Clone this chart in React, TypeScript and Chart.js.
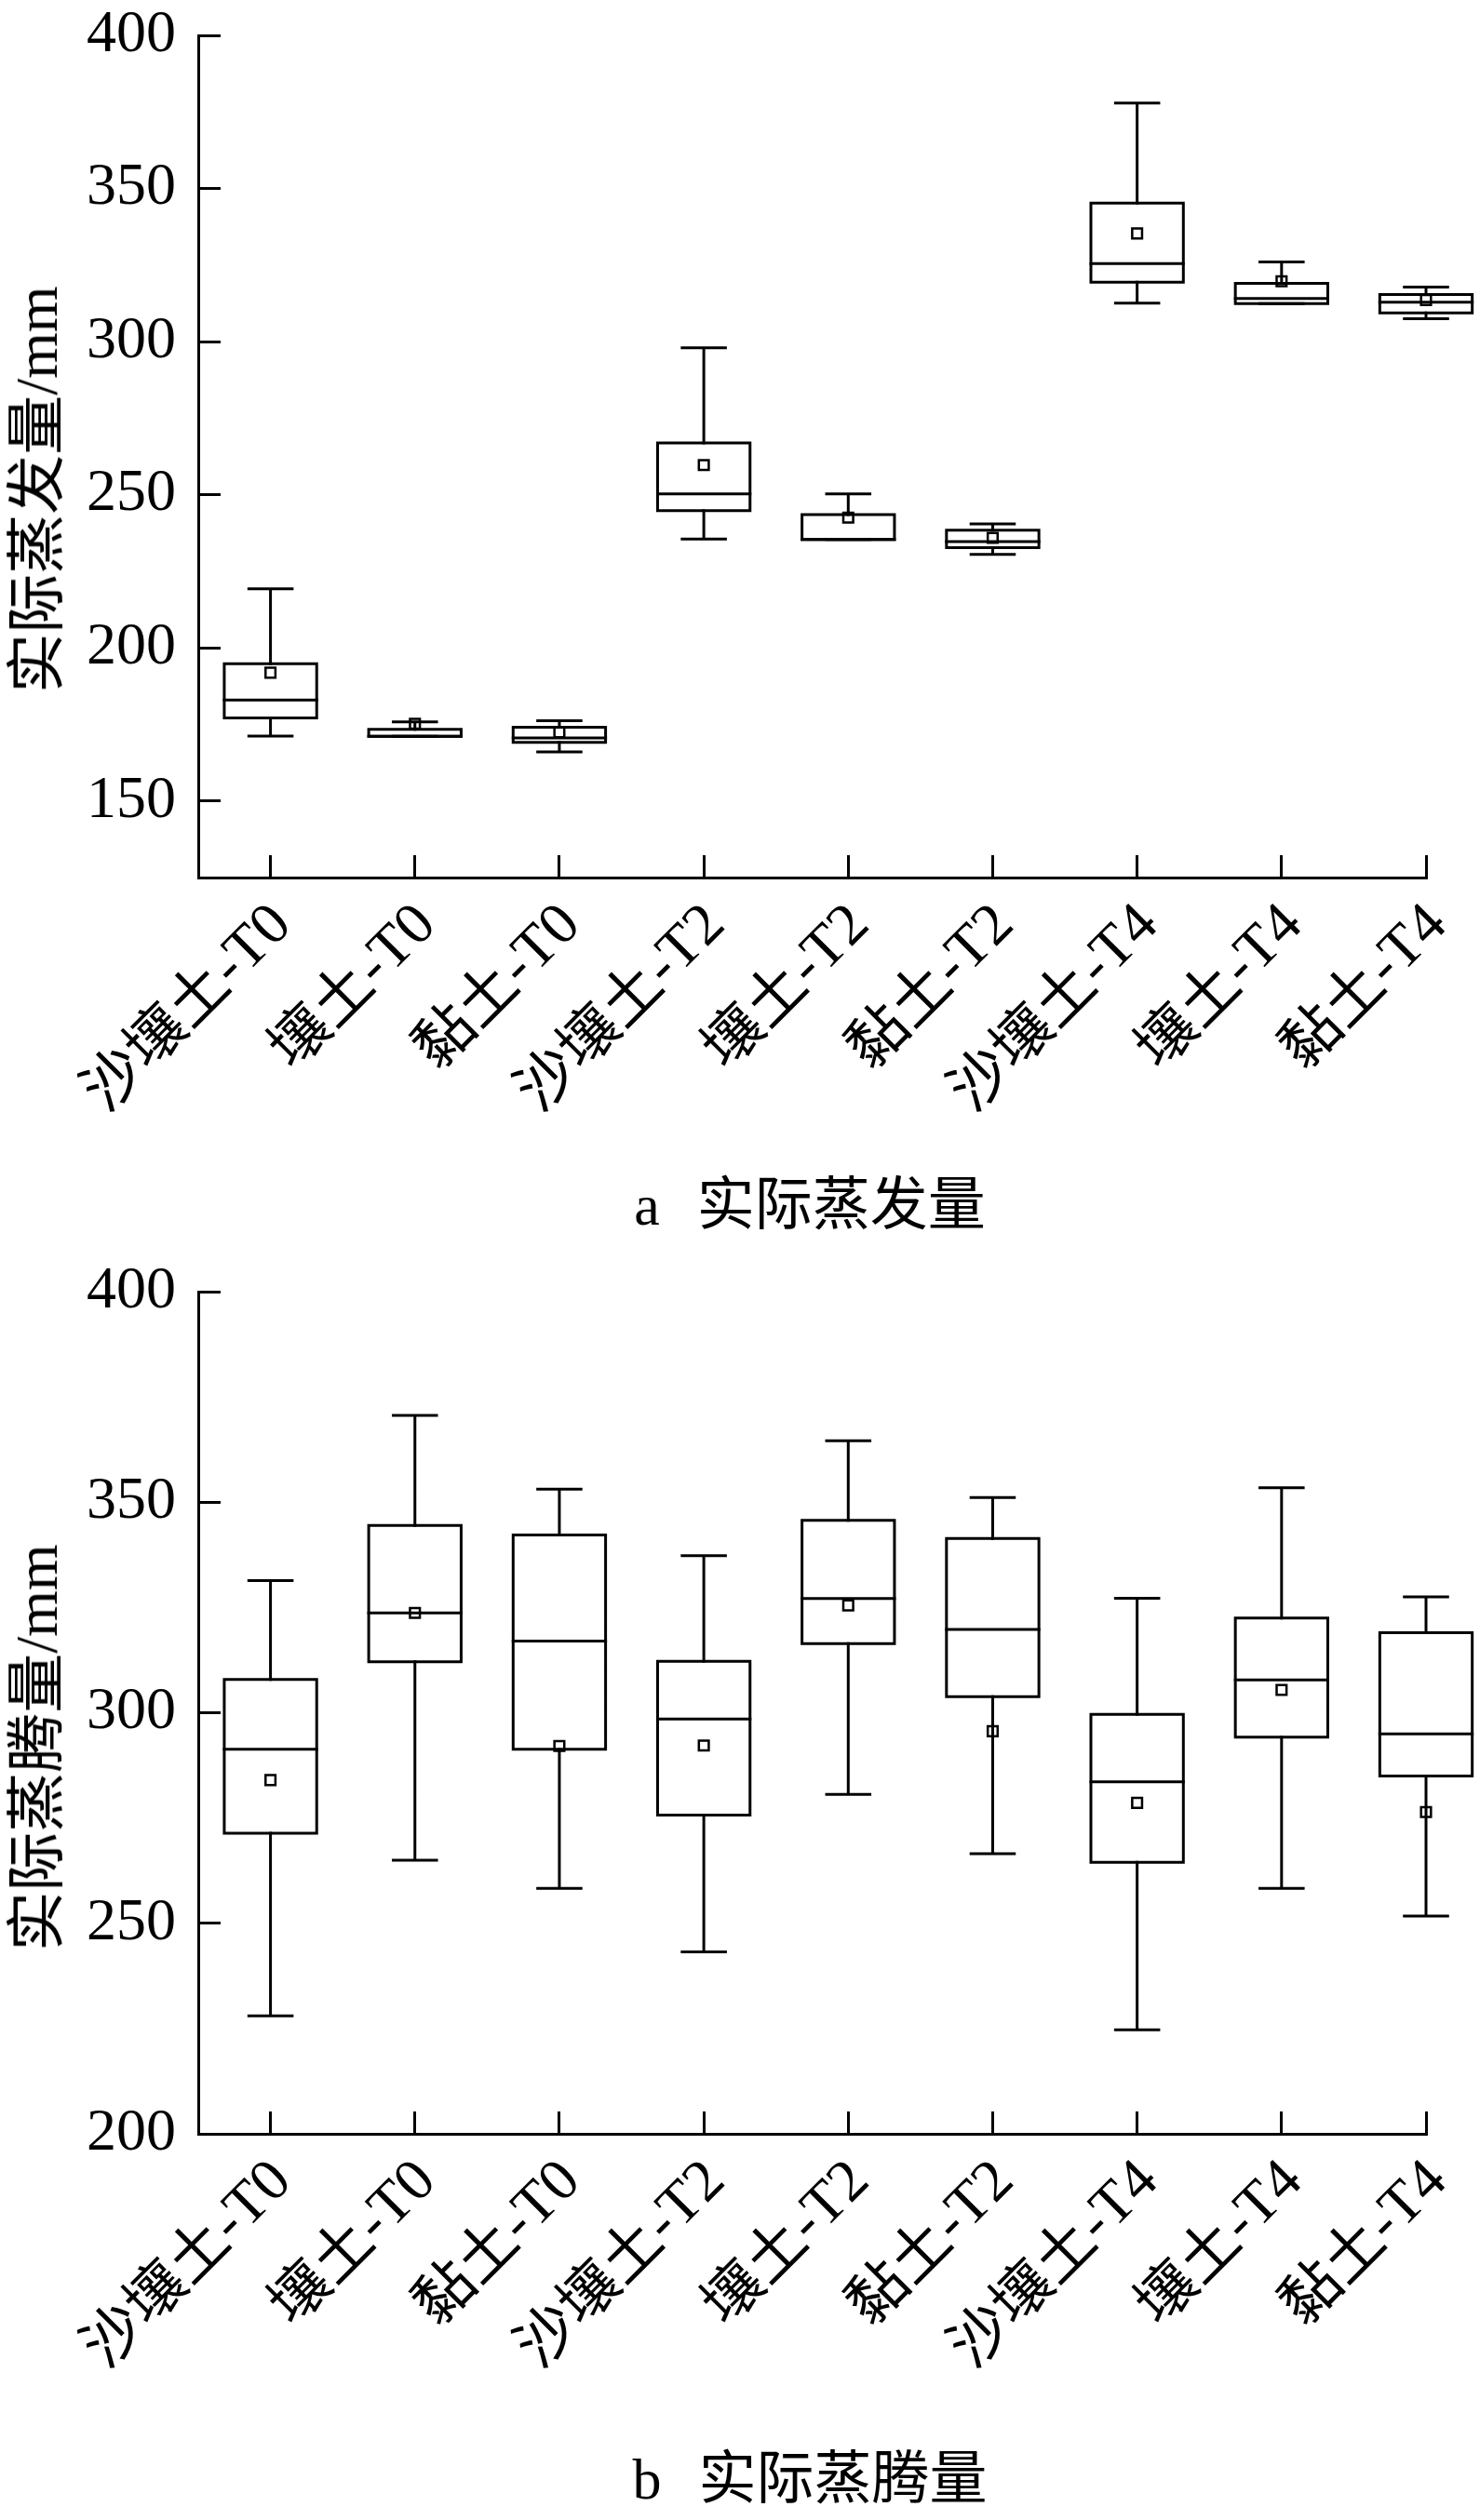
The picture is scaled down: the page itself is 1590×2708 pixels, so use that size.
import React, { useEffect, useRef } from "react";
import { Chart, registerables } from "chart.js";

Chart.register(...registerables);

// ---------- data ----------
const categories = [
  "沙壤土-T0",
  "壤土-T0",
  "黏土-T0",
  "沙壤土-T2",
  "壤土-T2",
  "黏土-T2",
  "沙壤土-T4",
  "壤土-T4",
  "黏土-T4",
];

// (a) 实际蒸发量
const evapMin = [171.2, 171.1, 166.0, 235.5, 235.4, 230.5, 312.6, 312.4, 307.5];
const evapQ1 = [177.1, 171.1, 169.1, 244.8, 235.4, 232.7, 319.4, 312.4, 309.4];
const evapMedian = [183.0, 171.1, 170.6, 250.3, 235.4, 234.7, 325.5, 314.1, 312.9];
const evapQ3 = [194.8, 173.4, 174.1, 266.9, 243.5, 238.4, 345.2, 319.0, 315.4];
const evapMax = [219.3, 175.8, 176.2, 298.0, 250.3, 240.5, 377.9, 326.0, 317.8];
const evapMean = [191.9, 175.2, 172.4, 259.7, 242.5, 235.9, 335.3, 319.7, 313.6];
const evapTicks = [150, 200, 250, 300, 350, 400];

// (b) 实际蒸腾量
const transMin = [228.0, 265.0, 258.3, 243.2, 280.6, 266.5, 224.7, 258.3, 251.7];
const transQ1 = [271.4, 312.1, 291.3, 275.7, 316.4, 303.8, 264.5, 294.2, 285.0];
const transMedian = [291.3, 323.7, 317.0, 298.5, 327.1, 319.8, 283.6, 307.8, 295.0];
const transQ3 = [307.9, 344.5, 342.2, 312.2, 345.7, 341.4, 299.6, 322.5, 319.0];
const transMax = [331.4, 370.6, 353.1, 337.3, 364.6, 351.1, 327.2, 353.4, 327.5];
const transMean = [284.0, 323.7, 292.1, 292.2, 325.5, 295.6, 278.6, 305.4, 276.4];
const transTicks = [200, 250, 300, 350, 400];

// ---------- styling ----------
const FONT_FAMILY = "'Liberation Serif', 'Noto Sans CJK SC', serif";
const BOX_HALF = 0.32;
const CAP_HALF = 0.15;
const LINE_W = 3;

type Pt = { x: number; y: number | null };

function buildDatasets(
  mins: number[],
  q1s: number[],
  meds: number[],
  q3s: number[],
  maxs: number[],
  means: number[]
) {
  const boxes: Pt[] = [];
  const medians: Pt[] = [];
  const whiskers: Pt[] = [];
  const meanPts: Pt[] = [];
  categories.forEach((_, i) => {
    const l = i - BOX_HALF;
    const r = i + BOX_HALF;
    boxes.push(
      { x: l, y: q1s[i] },
      { x: r, y: q1s[i] },
      { x: r, y: q3s[i] },
      { x: l, y: q3s[i] },
      { x: l, y: q1s[i] },
      { x: i, y: null }
    );
    medians.push({ x: l, y: meds[i] }, { x: r, y: meds[i] }, { x: i, y: null });
    whiskers.push(
      { x: i, y: q3s[i] },
      { x: i, y: maxs[i] },
      { x: i, y: null },
      { x: i - CAP_HALF, y: maxs[i] },
      { x: i + CAP_HALF, y: maxs[i] },
      { x: i, y: null },
      { x: i, y: q1s[i] },
      { x: i, y: mins[i] },
      { x: i, y: null },
      { x: i - CAP_HALF, y: mins[i] },
      { x: i + CAP_HALF, y: mins[i] },
      { x: i, y: null }
    );
    meanPts.push({ x: i, y: means[i] });
  });
  const lineCommon = {
    type: "line" as const,
    borderColor: "#000",
    borderWidth: LINE_W,
    pointRadius: 0,
    fill: false,
    tension: 0,
    spanGaps: false,
    clip: false as const,
    borderCapStyle: "square" as const,
    borderJoinStyle: "miter" as const,
  };
  return [
    { ...lineCommon, label: "box", data: boxes },
    { ...lineCommon, label: "median", data: medians },
    { ...lineCommon, label: "whisker", data: whiskers },
    {
      type: "line" as const,
      label: "mean",
      data: meanPts,
      showLine: false,
      pointStyle: "rect" as const,
      pointRadius: 7.5,
      pointBorderWidth: 2.5,
      pointBorderColor: "#000",
      pointBackgroundColor: "rgba(0,0,0,0)",
      clip: false as const,
    },
  ];
}

type BoxChartProps = {
  top: number;
  height: number;
  padTop: number;
  axisHeight: number;
  yMin: number;
  yMax: number;
  ticks: number[];
  mins: number[];
  q1s: number[];
  meds: number[];
  q3s: number[];
  maxs: number[];
  means: number[];
};

function zeroPadding(s: any) {
  s.paddingTop = 0;
  s.paddingBottom = 0;
  s.paddingLeft = 0;
  s.paddingRight = 0;
}

function BoxChart(props: BoxChartProps) {
  const ref = useRef<HTMLCanvasElement | null>(null);
  useEffect(() => {
    if (!ref.current) return;
    const font = { family: FONT_FAMILY, size: 64, lineHeight: 1.2 };
    const chart = new Chart(ref.current, {
      type: "line",
      data: {
        datasets: buildDatasets(
          props.mins,
          props.q1s,
          props.meds,
          props.q3s,
          props.maxs,
          props.means
        ) as any,
      },
      options: {
        animation: false,
        responsive: false,
        devicePixelRatio: 1,
        events: [],
        layout: { padding: { top: props.padTop, right: 58, left: 0, bottom: 0 } },
        plugins: {
          legend: { display: false },
          tooltip: { enabled: false },
          title: { display: false },
        },
        scales: {
          x: {
            type: "linear",
            min: -0.5,
            max: categories.length - 1,
            afterBuildTicks: (s: any) => {
              s.ticks = categories.map((_, i) => ({ value: i }));
            },
            afterFit: (s: any) => {
              s.height = props.axisHeight;
              zeroPadding(s);
            },
            ticks: {
              autoSkip: false,
              minRotation: 45,
              maxRotation: 45,
              padding: 38,
              labelOffset: 13,
              color: "#000",
              font,
              callback: (v: any) => categories[Math.round(Number(v))] ?? "",
            },
            grid: {
              drawOnChartArea: false,
              drawTicks: true,
              tickLength: -24,
              tickWidth: LINE_W,
              tickColor: "#000",
            },
            border: { display: true, color: "#000", width: LINE_W },
          },
          y: {
            type: "linear",
            min: props.yMin,
            max: props.yMax,
            afterBuildTicks: (s: any) => {
              s.ticks = props.ticks.map((v) => ({ value: v }));
            },
            afterFit: (s: any) => {
              s.width = 213;
              zeroPadding(s);
            },
            ticks: {
              padding: 48,
              color: "#000",
              font,
            },
            grid: {
              drawOnChartArea: false,
              drawTicks: true,
              tickLength: -24,
              tickWidth: LINE_W,
              tickColor: "#000",
            },
            border: { display: true, color: "#000", width: LINE_W },
          },
        },
      } as any,
    });
    return () => chart.destroy();
  }, []);
  return (
    <canvas
      ref={ref}
      width={1590}
      height={props.height}
      style={{
        position: "absolute",
        left: 0,
        top: props.top,
        width: 1590,
        height: props.height,
      }}
    />
  );
}

const textStyle: React.CSSProperties = {
  position: "absolute",
  fontFamily: FONT_FAMILY,
  color: "#000",
  whiteSpace: "nowrap",
  lineHeight: 1,
};

function YTitle({ cx, cy, text }: { cx: number; cy: number; text: string }) {
  return (
    <div
      style={{
        ...textStyle,
        left: cx,
        top: cy,
        fontSize: 64,
        transform: "translate(-50%, -50%) rotate(-90deg)",
      }}
    >
      {text}
    </div>
  );
}

function Caption({ cx, cy, letter, text }: { cx: number; cy: number; letter: string; text: string }) {
  return (
    <div
      style={{
        ...textStyle,
        left: cx,
        top: cy,
        fontSize: 62,
        transform: "translate(-50%, -50%)",
      }}
    >
      <span>{letter}</span>
      <span style={{ marginLeft: 40 }}>{text}</span>
    </div>
  );
}

export default function App() {
  return (
    <div
      style={{
        position: "absolute",
        left: 0,
        top: 0,
        width: 1590,
        height: 2708,
        background: "#fff",
        overflow: "hidden",
      }}
    >
      <BoxChart
        top={0}
        height={1240}
        padTop={38}
        axisHeight={297}
        yMin={125}
        yMax={400}
        ticks={evapTicks}
        mins={evapMin}
        q1s={evapQ1}
        meds={evapMedian}
        q3s={evapQ3}
        maxs={evapMax}
        means={evapMean}
      />
      <YTitle cx={40} cy={526} text="实际蒸发量/mm" />
      <Caption cx={870} cy={1295} letter="a" text="实际蒸发量" />

      <BoxChart
        top={1340}
        height={1240}
        padTop={48}
        axisHeight={287}
        yMin={200}
        yMax={400}
        ticks={transTicks}
        mins={transMin}
        q1s={transQ1}
        meds={transMedian}
        q3s={transQ3}
        maxs={transMax}
        means={transMean}
      />
      <YTitle cx={40} cy={1878} text="实际蒸腾量/mm" />
      <Caption cx={870} cy={2664} letter="b" text="实际蒸腾量" />
    </div>
  );
}
